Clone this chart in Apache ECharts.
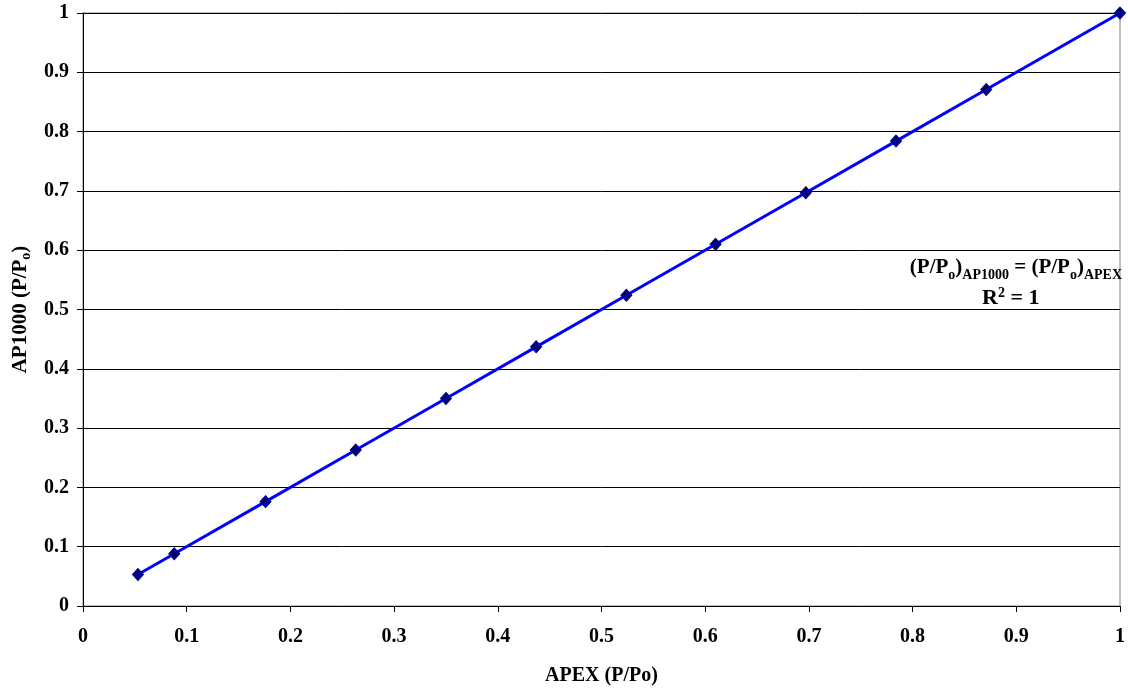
<!DOCTYPE html>
<html>
<head>
<meta charset="utf-8">
<script src="https://cdn.jsdelivr.net/npm/echarts@6/dist/echarts.min.js"></script>
<style>html,body{margin:0;padding:0;background:#fff}#c{width:1128px;height:691px}</style>
</head>
<body>
<div id="c"></div>
<script>
const apexX = [0.053, 0.088, 0.176, 0.263, 0.350, 0.437, 0.524, 0.610, 0.697, 0.784, 0.871, 1.000];
const ap1000Y = [0.053, 0.088, 0.176, 0.263, 0.350, 0.437, 0.524, 0.610, 0.697, 0.784, 0.871, 1.000];
const axisTicks = [0, 0.1, 0.2, 0.3, 0.4, 0.5, 0.6, 0.7, 0.8, 0.9, 1];

const FONT = '"Liberation Serif", "Times New Roman", serif';
const chart = echarts.init(document.getElementById('c'));
const pts = apexX.map((x, i) => [x, ap1000Y[i]]);

chart.setOption({
  animation: false,
  backgroundColor: '#fff',
  grid: { left: 83, right: 8, top: 13, bottom: 84, show: true, borderColor: '#808080', borderWidth: 1 },
  xAxis: {
    type: 'value', min: axisTicks[0], max: axisTicks[axisTicks.length - 1], interval: 0.1,
    axisLine: { lineStyle: { color: '#000', width: 1 } },
    axisTick: { show: true, length: 6, lineStyle: { color: '#000' } },
    splitLine: { show: false },
    axisLabel: { margin: 21, color: '#000', fontFamily: FONT, fontWeight: 'bold', fontSize: 20 },
    name: 'APEX (P/Po)', nameLocation: 'middle', nameGap: 60,
    nameTextStyle: { color: '#000', fontFamily: FONT, fontWeight: 'bold', fontSize: 20 }
  },
  yAxis: {
    type: 'value', min: axisTicks[0], max: axisTicks[axisTicks.length - 1], interval: 0.1,
    axisLine: { show: true, lineStyle: { color: '#000', width: 1 } },
    axisTick: { show: true, length: 6, lineStyle: { color: '#000' } },
    splitLine: { show: true, lineStyle: { color: '#000', width: 1 } },
    axisLabel: { margin: 14, color: '#000', fontFamily: FONT, fontWeight: 'bold', fontSize: 20 },
    name: '{a|AP1000 (P/P}{s|o}{a|)}', nameLocation: 'middle', nameGap: 50, nameRotate: 90,
    nameTextStyle: {
      rich: {
        a: { color: '#000', fontFamily: FONT, fontWeight: 'bold', fontSize: 21, lineHeight: 24 },
        s: { color: '#000', fontFamily: FONT, fontWeight: 'bold', fontSize: 14, lineHeight: 14, verticalAlign: 'bottom' }
      }
    }
  },
  graphic: [
    {
      type: 'text', right: 6, top: 257, z: 10,
      style: {
        text: '{a|(P/P}{s|o}{a|)}{s|AP1000}{a| = (P/P}{s|o}{a|)}{s|APEX}',
        rich: {
          a: { fill: '#000', fontFamily: FONT, fontWeight: 'bold', fontSize: 21, lineHeight: 24 },
          s: { fill: '#000', fontFamily: FONT, fontWeight: 'bold', fontSize: 14, lineHeight: 14, verticalAlign: 'bottom', padding: [0, 0, -3, 0] }
        }
      }
    },
    {
      type: 'text', left: 982, top: 286, z: 10,
      style: {
        text: '{a|R}{p|2}{a| = 1}',
        rich: {
          a: { fill: '#000', fontFamily: FONT, fontWeight: 'bold', fontSize: 22, lineHeight: 24 },
          p: { fill: '#000', fontFamily: FONT, fontWeight: 'bold', fontSize: 14, lineHeight: 14, verticalAlign: 'top' }
        }
      }
    }
  ],
  series: [{
    type: 'line',
    data: pts,
    symbol: 'diamond',
    symbolSize: [11, 12],
    itemStyle: { color: '#000080', borderColor: '#000080' },
    lineStyle: { color: '#0000FF', width: 3 },
    z: 5
  }]
});
</script>
</body>
</html>
